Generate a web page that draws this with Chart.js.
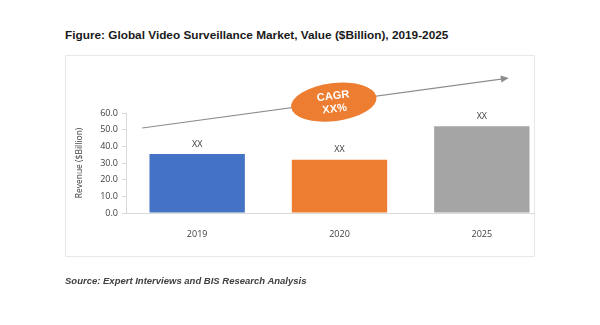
<!DOCTYPE html>
<html>
<head>
<meta charset="utf-8">
<script src="https://cdn.jsdelivr.net/npm/chart.js@4.4.1/dist/chart.umd.min.js"></script>
<style>
    body {
        margin: 0;
        background: #fff;
        font-family: "Liberation Sans", Arial, sans-serif;
    }
    .wrap {
        position: relative;
        width: 600px;
        height: 325px;
        overflow: hidden;
    }
    .title {
        position: absolute;
        left: 65px;
        top: 28px;
        font-size: 11.8px;
        font-weight: bold;
        color: #1a1a1a;
        white-space: nowrap;
    }
    .frame {
        position: absolute;
        left: 65px;
        top: 55px;
        width: 470px;
        height: 202px;
        border: 1px solid #e8e8e8;
        box-sizing: border-box;
    }
    .source {
        position: absolute;
        left: 65px;
        top: 275px;
        font-size: 9.5px;
        font-weight: bold;
        font-style: italic;
        color: #404040;
        white-space: nowrap;
    }
    canvas {
        position: absolute;
        left: 0;
        top: 0;
    }
</style>
</head>
<body>
<div class="wrap">
    <div class="title">Figure: Global Video Surveillance Market, Value ($Billion), 2019-2025</div>
    <div class="frame"></div>
    <canvas id="chart" width="600" height="325"></canvas>
    <div class="source">Source: Expert Interviews and BIS Research Analysis</div>
</div>

<script>
// Chart data
const years = ["2019", "2020", "2025"];
const revenue = [35.4, 32.0, 52.0];
const barLabels = ["XX", "XX", "XX"];
const barColors = ["#4472C4", "#ED7D31", "#A5A5A5"];
const yTicks = [0, 10, 20, 30, 40, 50, 60];

const textGrey = "#404040";
const axisGrey = "#d9d9d9";
const tickFont = "'Open Sans', sans-serif";

// Draws the XX labels, x axis line, the growth arrow and the CAGR bubble
const extras = {
    id: "extras",
    afterDatasetsDraw(chart) {
        const ctx = chart.ctx;
        const x = chart.scales.x;
        const y = chart.scales.y;
        const area = chart.chartArea;

        // x axis line (stops at the frame edge)
        ctx.save();
        ctx.strokeStyle = axisGrey;
        ctx.lineWidth = 1;
        ctx.beginPath();
        ctx.moveTo(area.left, Math.round(y.getPixelForValue(0)) + 0.5);
        ctx.lineTo(535, Math.round(y.getPixelForValue(0)) + 0.5);
        ctx.stroke();

        // value labels over the bars
        const meta = chart.getDatasetMeta(0);
        ctx.fillStyle = textGrey;
        ctx.font = "9px " + tickFont;
        ctx.textAlign = "center";
        ctx.textBaseline = "middle";
        meta.data.forEach((bar, i) => {
            ctx.fillText(barLabels[i], bar.x, bar.y - 10);
        });

        // growth arrow
        const x0 = x.getPixelForValue(0) - 55;
        const y0 = y.getPixelForValue(51);
        const x1 = x.getPixelForValue(2) + 27;
        const y1 = y.getPixelForValue(81);
        const ang = Math.atan2(y1 - y0, x1 - x0);
        ctx.strokeStyle = "#8c8c8c";
        ctx.fillStyle = "#8c8c8c";
        ctx.lineWidth = 1.2;
        ctx.beginPath();
        ctx.moveTo(x0, y0);
        ctx.lineTo(x1 - 6 * Math.cos(ang), y1 - 6 * Math.sin(ang));
        ctx.stroke();
        ctx.save();
        ctx.translate(x1, y1);
        ctx.rotate(ang);
        ctx.beginPath();
        ctx.moveTo(0, 0);
        ctx.lineTo(-8, -3.5);
        ctx.lineTo(-8, 3.5);
        ctx.closePath();
        ctx.fill();
        ctx.restore();

        // CAGR bubble
        const cx = x.getPixelForValue(0.96);
        const cy = y.getPixelForValue(66.5);
        ctx.save();
        ctx.translate(cx, cy);
        ctx.rotate(-0.12);
        ctx.fillStyle = "#ED7D31";
        ctx.beginPath();
        ctx.ellipse(0, 0, 43, 19, 0, 0, Math.PI * 2);
        ctx.fill();
        ctx.fillStyle = "#fff";
        ctx.font = "bold 11px 'Liberation Sans', Arial, sans-serif";
        ctx.fillText("CAGR", 0, -6);
        ctx.fillText("XX%", 0, 7);
        ctx.restore();

        ctx.restore();
    }
};

const canvas = document.getElementById("chart");

let chart = new Chart(canvas, {
    type: "bar",
    data: {
        labels: years,
        datasets: [{
            data: revenue,
            backgroundColor: barColors,
            borderWidth: 0,
            barPercentage: 0.67,
            categoryPercentage: 1
        }]
    },
    options: {
        responsive: false,
        animation: false,
        layout: {
            padding: { left: 70, top: 113, right: 47, bottom: 87 }
        },
        scales: {
            x: {
                grid: { display: false },
                border: { display: false },
                ticks: {
                    color: textGrey,
                    padding: 8,
                    font: { family: tickFont, size: 9 }
                },
                afterFit(scale) {
                    scale.height = 25;
                }
            },
            y: {
                min: 0,
                max: 60,
                afterBuildTicks(scale) {
                    scale.ticks = yTicks.map(v => ({ value: v }));
                },
                grid: {
                    drawOnChartArea: false,
                    color: axisGrey,
                    tickLength: 4
                },
                border: { color: axisGrey },
                ticks: {
                    color: textGrey,
                    padding: 4,
                    font: { family: tickFont, size: 9 },
                    callback: v => v.toFixed(1)
                },
                title: {
                    display: true,
                    text: "Revenue ($Billion)",
                    color: textGrey,
                    padding: { top: 4, bottom: 4 },
                    font: { family: tickFont, size: 8.5 }
                },
                afterFit(scale) {
                    scale.width = 56;
                }
            }
        },
        plugins: {
            legend: { display: false },
            tooltip: { enabled: false }
        }
    },
    plugins: [extras]
});
</script>
</body>
</html>
